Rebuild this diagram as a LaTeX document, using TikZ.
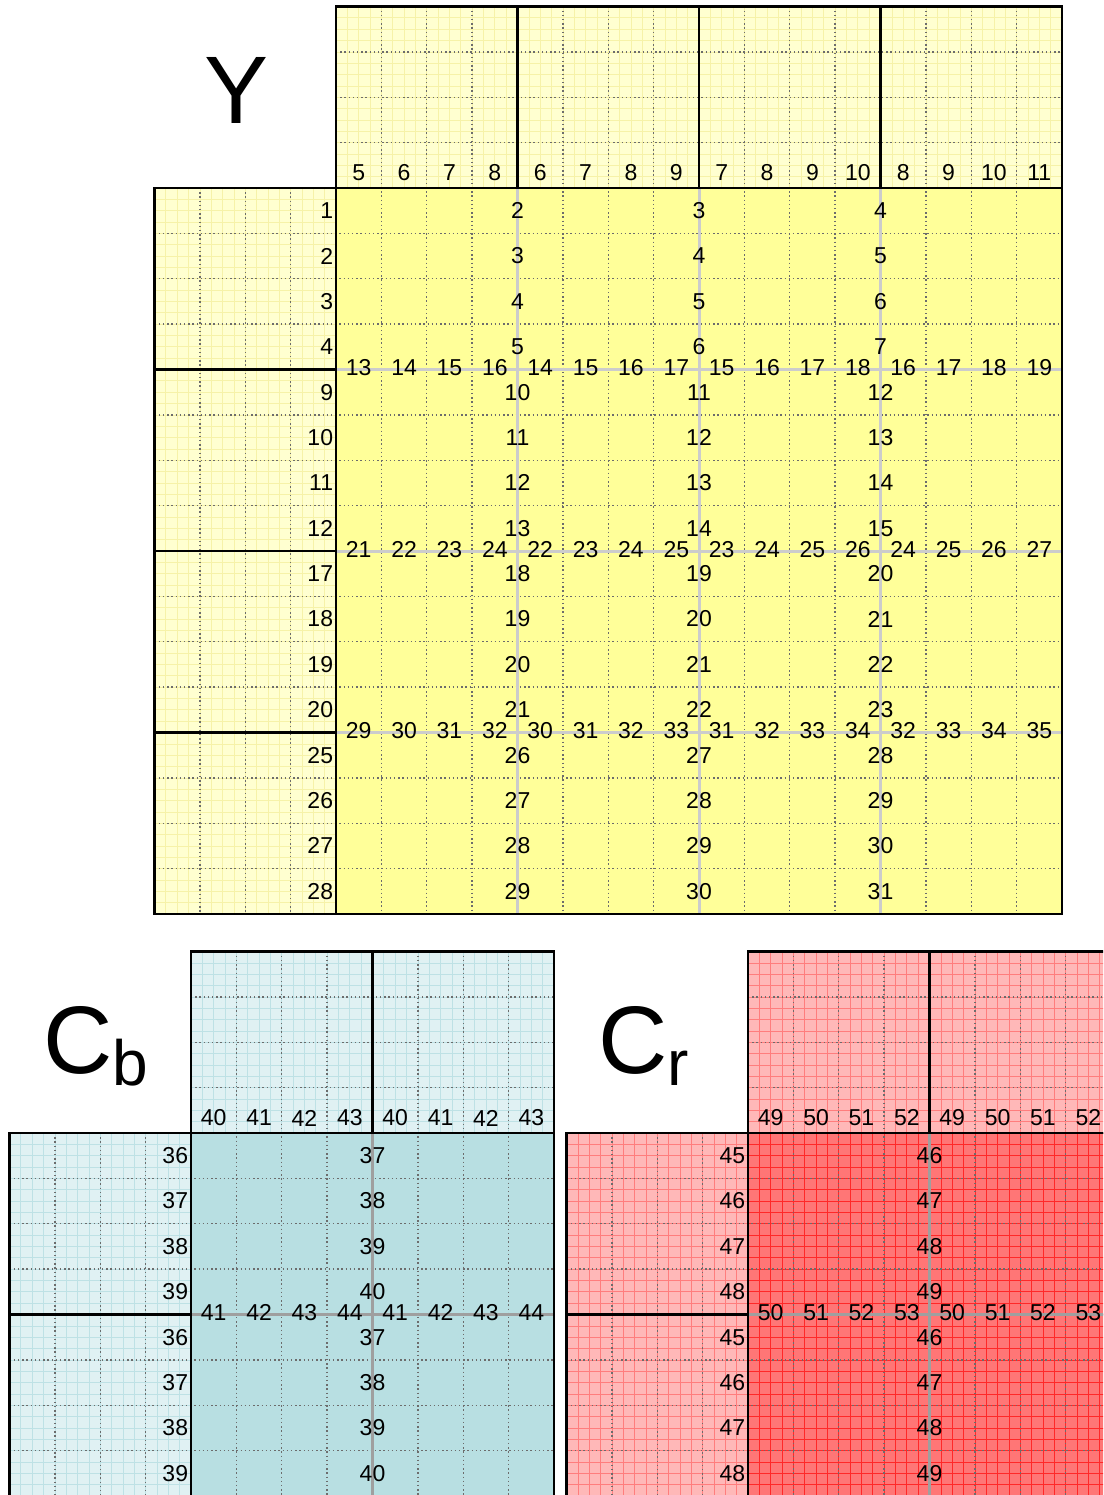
\documentclass[tikz,border=0pt]{standalone}
\usepackage{fontspec}
\setmainfont{Liberation Sans}
\usetikzlibrary{positioning}

\definecolor{ystrip}{RGB}{255,255,208}
\definecolor{yfine}{RGB}{246,242,168}
\definecolor{ymain}{RGB}{255,255,153}
\definecolor{bstrip}{RGB}{224,241,243}
\definecolor{bfine}{RGB}{190,225,229}
\definecolor{bmain}{RGB}{184,223,226}
\definecolor{rstrip}{RGB}{255,184,184}
\definecolor{rfine}{RGB}{255,125,125}
\definecolor{rmain}{RGB}{255,118,118}
\definecolor{rmainfine}{RGB}{255,40,40}

\begin{document}
\begin{tikzpicture}[x=1pt,y=-1pt,
    num/.style={font=\fontsize{23}{23}\selectfont, inner sep=0pt},
    title/.style={font=\fontsize{96}{96}\selectfont, inner sep=0pt},
    cell/.style={gray!85!black, line width=1.4pt, dash pattern=on 1.4pt off 2.8pt},
    fine/.style={line width=0.7pt},
    border/.style={black, line width=2.2pt},
    split/.style={line width=3pt}]
\clip (0,0) rectangle (1103,1495);
\fill[white] (0,0) rectangle (1103,1495);

% Y plane, 16 x 16 samples
\begin{scope}[xshift=336pt, yshift=-188pt, x=45.375pt, y=-45.375pt]
  \fill[ystrip] (0,-4) rectangle (16,0);
  \fill[ystrip] (-4,0) rectangle (0,16);
  \fill[ymain] (0,0) rectangle (16,16);
  \foreach \t in {0,0.25,...,16} {
    \draw[fine, yfine] (\t,-4) -- (\t,0);
    \draw[fine, yfine] (-4,\t) -- (0,\t);
  }
  \foreach \t in {-4,-3.75,...,0} {
    \draw[fine, yfine] (0,\t) -- (16,\t);
    \draw[fine, yfine] (\t,0) -- (\t,16);
  }
  % sample cells
  \foreach \t in {1,...,15} {
    \draw[cell] (\t,-4) -- (\t,16);
    \draw[cell] (-4,\t) -- (16,\t);
  }
  \foreach \t in {-3,-2,-1} {
    \draw[cell] (\t,0) -- (\t,16);
    \draw[cell] (0,\t) -- (16,\t);
  }
  % block edges
  \foreach \t in {4,8,12} {
    \draw[split, gray!40] (\t,0) -- (\t,16);
    \draw[split, gray!40] (0,\t) -- (16,\t);
    \draw[border] (\t,-4) -- (\t,0);
    \draw[border] (-4,\t) -- (0,\t);
  }
  \draw[border] (0,-4) rectangle (16,0);
  \draw[border] (-4,0) rectangle (0,16);
  \draw[border] (0,0) rectangle (16,16);

  % numbers
  \foreach \j in {0,...,3} \foreach \k in {0,...,3} {
    \pgfmathtruncatemacro\n{5+\j+\k}
    \node[num] (yh\j\k) at (4*\j+\k+0.5,-0.33) {\n};
    \pgfmathtruncatemacro\n{1+8*\j+\k}
    \node[num, anchor=east] (yl\j\k) at (-0.06,4*\j+\k+0.5) {\n};
  }
  \foreach \j in {1,2,3} \foreach \i in {0,...,3} \foreach \k in {0,...,3} {
    \pgfmathtruncatemacro\n{1+\j+8*\i+\k}
    \node[num] (yv\j\i\k) at (4*\j,4*\i+\k+0.5) {\n};
    \pgfmathtruncatemacro\n{5+8*\j+\i+\k}
    \node[num] (yr\j\i\k) at (4*\i+\k+0.5,4*\j-0.04) {\n};
  }
\end{scope}
\node[title, anchor=base] (ytitle) at (237,124) {Y};

% Cb plane, 8 x 8 samples
\begin{scope}[xshift=191pt, yshift=-1133pt, x=45.375pt, y=-45.375pt]
  \fill[bstrip] (0,-4) rectangle (8,0);
  \fill[bstrip] (-4,0) rectangle (0,8);
  \fill[bmain] (0,0) rectangle (8,8);
  \foreach \t in {0,0.25,...,8} {
    \draw[fine, bfine] (\t,-4) -- (\t,0);
    \draw[fine, bfine] (-4,\t) -- (0,\t);
  }
  \foreach \t in {-4,-3.75,...,0} {
    \draw[fine, bfine] (0,\t) -- (8,\t);
    \draw[fine, bfine] (\t,0) -- (\t,8);
  }
  \foreach \t in {1,...,7} {
    \draw[cell] (\t,-4) -- (\t,8);
    \draw[cell] (-4,\t) -- (8,\t);
  }
  \foreach \t in {-3,-2,-1} {
    \draw[cell] (\t,0) -- (\t,8);
    \draw[cell] (0,\t) -- (8,\t);
  }
  \draw[split, gray!75] (4,0) -- (4,8);
  \draw[split, gray!75] (0,4) -- (8,4);
  \draw[border] (4,-4) -- (4,0);
  \draw[border] (-4,4) -- (0,4);
  \draw[border] (0,-4) rectangle (8,0);
  \draw[border] (-4,0) rectangle (0,8);
  \draw[border] (0,0) rectangle (8,8);

  \foreach \j in {0,1} \foreach \k in {0,...,3} {
    \pgfmathtruncatemacro\n{40+\k}
    \node[num] (bh\j\k) at (4*\j+\k+0.5,-0.33) {\n};
    \pgfmathtruncatemacro\n{36+\k}
    \node[num, anchor=east] (bl\j\k) at (-0.06,4*\j+\k+0.5) {\n};
    \pgfmathtruncatemacro\n{37+\k}
    \node[num] (bv\j\k) at (4,4*\j+\k+0.5) {\n};
    \pgfmathtruncatemacro\n{41+\k}
    \node[num] (br\j\k) at (4*\j+\k+0.5,3.96) {\n};
  }
\end{scope}
\node[title, anchor=base west] (cbtitle) at (43,1073)
  {C\raisebox{-12pt}{\fontsize{64}{64}\selectfont b}};

% Cr plane, 8 x 8 samples
\begin{scope}[xshift=748pt, yshift=-1133pt, x=45.375pt, y=-45.375pt]
  \fill[rstrip] (0,-4) rectangle (8,0);
  \fill[rstrip] (-4,0) rectangle (0,8);
  \fill[rmain] (0,0) rectangle (8,8);
  \foreach \t in {0,0.25,...,8} {
    \draw[fine, rfine] (\t,-4) -- (\t,0);
    \draw[fine, rfine] (-4,\t) -- (0,\t);
    \draw[fine, rmainfine] (\t,0) -- (\t,8);
    \draw[fine, rmainfine] (0,\t) -- (8,\t);
  }
  \foreach \t in {-4,-3.75,...,0} {
    \draw[fine, rfine] (0,\t) -- (8,\t);
    \draw[fine, rfine] (\t,0) -- (\t,8);
  }
  \foreach \t in {1,...,7} {
    \draw[cell] (\t,-4) -- (\t,8);
    \draw[cell] (-4,\t) -- (8,\t);
  }
  \foreach \t in {-3,-2,-1} {
    \draw[cell] (\t,0) -- (\t,8);
    \draw[cell] (0,\t) -- (8,\t);
  }
  \draw[split, gray!75] (4,0) -- (4,8);
  \draw[split, gray!75] (0,4) -- (8,4);
  \draw[border] (4,-4) -- (4,0);
  \draw[border] (-4,4) -- (0,4);
  \draw[border] (0,-4) rectangle (8,0);
  \draw[border] (-4,0) rectangle (0,8);
  \draw[border] (0,0) rectangle (8,8);

  \foreach \j in {0,1} \foreach \k in {0,...,3} {
    \pgfmathtruncatemacro\n{49+\k}
    \node[num] (rh\j\k) at (4*\j+\k+0.5,-0.33) {\n};
    \pgfmathtruncatemacro\n{45+\k}
    \node[num, anchor=east] (rl\j\k) at (-0.06,4*\j+\k+0.5) {\n};
    \pgfmathtruncatemacro\n{46+\k}
    \node[num] (rv\j\k) at (4,4*\j+\k+0.5) {\n};
    \pgfmathtruncatemacro\n{50+\k}
    \node[num] (rr\j\k) at (4*\j+\k+0.5,3.96) {\n};
  }
\end{scope}
\node[title, anchor=base west] (crtitle) at (598,1073)
  {C\raisebox{-12pt}{\fontsize{64}{64}\selectfont r}};
\end{tikzpicture}
\end{document}
